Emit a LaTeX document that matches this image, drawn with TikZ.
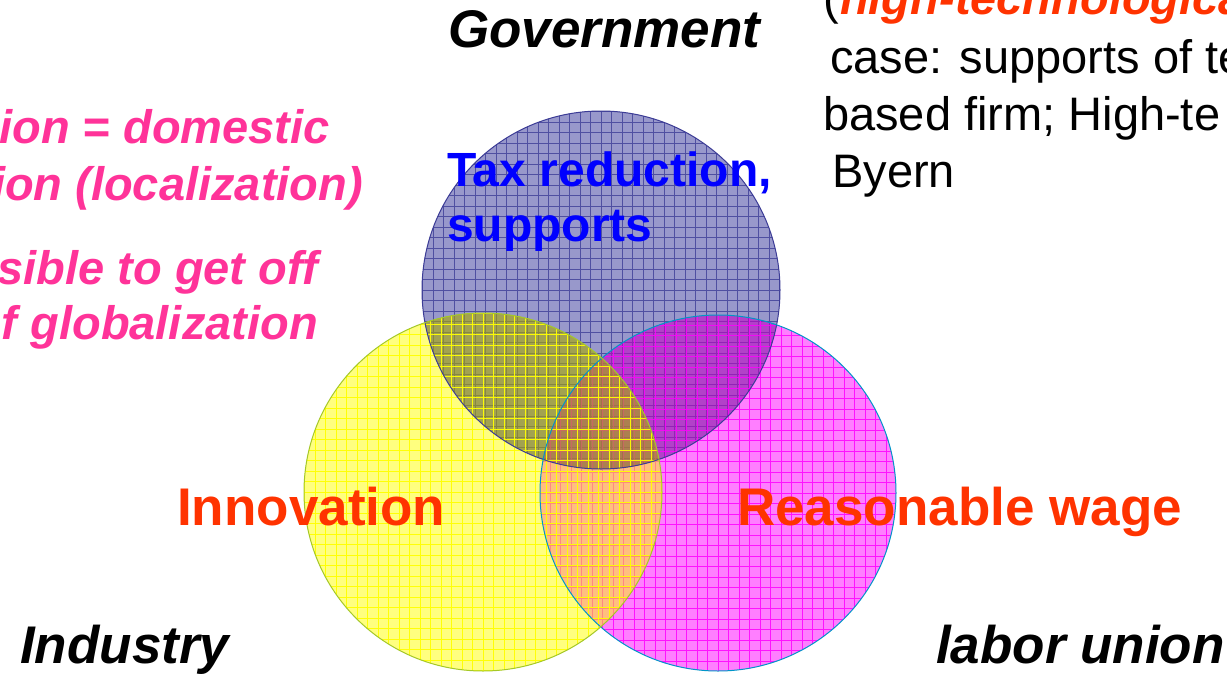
\documentclass[tikz,border=0pt]{standalone}
\usepackage{fontspec}
\setmainfont{Liberation Sans}
\definecolor{govfill}{RGB}{51,51,153}
\definecolor{govline}{RGB}{40,40,140}
\definecolor{govedge}{RGB}{60,60,150}
\definecolor{magfill}{RGB}{255,0,255}
\definecolor{magedge}{RGB}{0,150,200}
\definecolor{yelfill}{RGB}{255,255,0}
\definecolor{yeledge}{RGB}{165,200,40}
\definecolor{pinktxt}{RGB}{255,51,153}
\definecolor{orangetxt}{RGB}{255,51,0}
\definecolor{bluetxt}{RGB}{0,0,255}
% fill of one set: x, y, r, colour, opacity
\newcommand\vennfill[5]{%
  \fill[#4, opacity=#5] (#1,#2) circle[radius=#3];
}
% grid of one set: x, y, r, colour, opacity
\newcommand\venngrid[5]{%
  \begin{scope}
    \clip (#1,#2) circle[radius=#3];
    \draw[#4, opacity=#5, line width=1pt]
      \foreach \k in {-18,...,18} {
        ({#1+\k*10.5},{#2-#3}) -- ({#1+\k*10.5},{#2+#3})
        ({#1-#3},{#2+\k*10.5}) -- ({#1+#3},{#2+\k*10.5})
      };
  \end{scope}
}
% darkening of the overlap of two sets
\newcommand\venndark[7]{%
  \begin{scope}
    \clip (#1,#2) circle[radius=#3];
    \fill[black, opacity=#7] (#4,#5) circle[radius=#6];
  \end{scope}
}
\begin{document}
\begin{tikzpicture}[x=1pt,y=-1pt,
  bigbi/.style={font=\fontsize{53}{53}\selectfont\bfseries\itshape, inner sep=0pt, anchor=base west},
  bigb/.style={font=\fontsize{53}{53}\selectfont\bfseries, inner sep=0pt, anchor=base west, text=orangetxt},
  taxtxt/.style={font=\fontsize{48}{48}\selectfont\bfseries, inner sep=0pt, anchor=base west, text=bluetxt},
  pinkline/.style={font=\fontsize{47}{47}\selectfont\bfseries\itshape, inner sep=0pt, anchor=base east, text=pinktxt},
  casetxt/.style={font=\fontsize{47}{47}\selectfont, inner sep=0pt, anchor=base west},
  hightxt/.style={font=\fontsize{47}{47}\selectfont\bfseries\itshape, inner sep=0pt, anchor=base west, text=orangetxt},
  edge/.style={line width=1pt}]
\useasboundingbox (0,0) rectangle (1227,675);
\clip (0,0) rectangle (1227,675);
\fill[white] (0,0) rectangle (1227,675);

\coordinate (cgov) at (601,290);
\coordinate (clab) at (718,493);
\coordinate (cind) at (483,492);

% government (bottom layer)
\vennfill{601}{290}{179}{govfill}{0.5}
\venngrid{601}{290}{179}{govline}{0.65}
% labor union
\vennfill{718}{493}{178}{magfill}{0.5}
\venndark{601}{290}{179}{718}{493}{178}{0.12}
\venngrid{718}{493}{178}{magfill}{0.85}
% industry (top layer)
\vennfill{483}{492}{179}{yelfill}{0.5}
\venndark{601}{290}{179}{483}{492}{179}{0.2}
\venngrid{483}{492}{179}{yelfill}{0.95}

\draw[edge, govedge] (cgov) circle[radius=179];
\draw[edge, magedge] (clab) circle[radius=178];
\draw[edge, yeledge] (cind) circle[radius=179];

% labels
\node[bigbi] (gov) at (448,47) {Government};
\node[bigbi] (ind) at (20,663) {Industry};
\node[bigbi] (lab) at (936,663) {labor union};
\node[bigb] (inn) at (177,525) {Innovation};
\node[bigb] (wage) at (737,525) {Reasonable wage};
\node[taxtxt] (tax1) at (447,186) {Tax reduction,};
\node[taxtxt] (tax2) at (447,241) {supports};

\node[pinkline] (p1) at (330,143) {ion = domestic};
\node[pinkline] (p2) at (363,200) {ion (localization)};
\node[pinkline] (p3) at (318,284) {sible to get off};
\node[pinkline] (p4) at (318,339) {f globalization};

\node[casetxt] (paren) at (823,14) {(};
\node[hightxt] (high) at (840,14) {high-technologica};
\node[casetxt] (case1) at (830,73) {case: supports of te};
\node[casetxt] (case2) at (823,130) {based firm; High-te};
\node[casetxt] (case3) at (832,187) {Byern};
\end{tikzpicture}
\end{document}
